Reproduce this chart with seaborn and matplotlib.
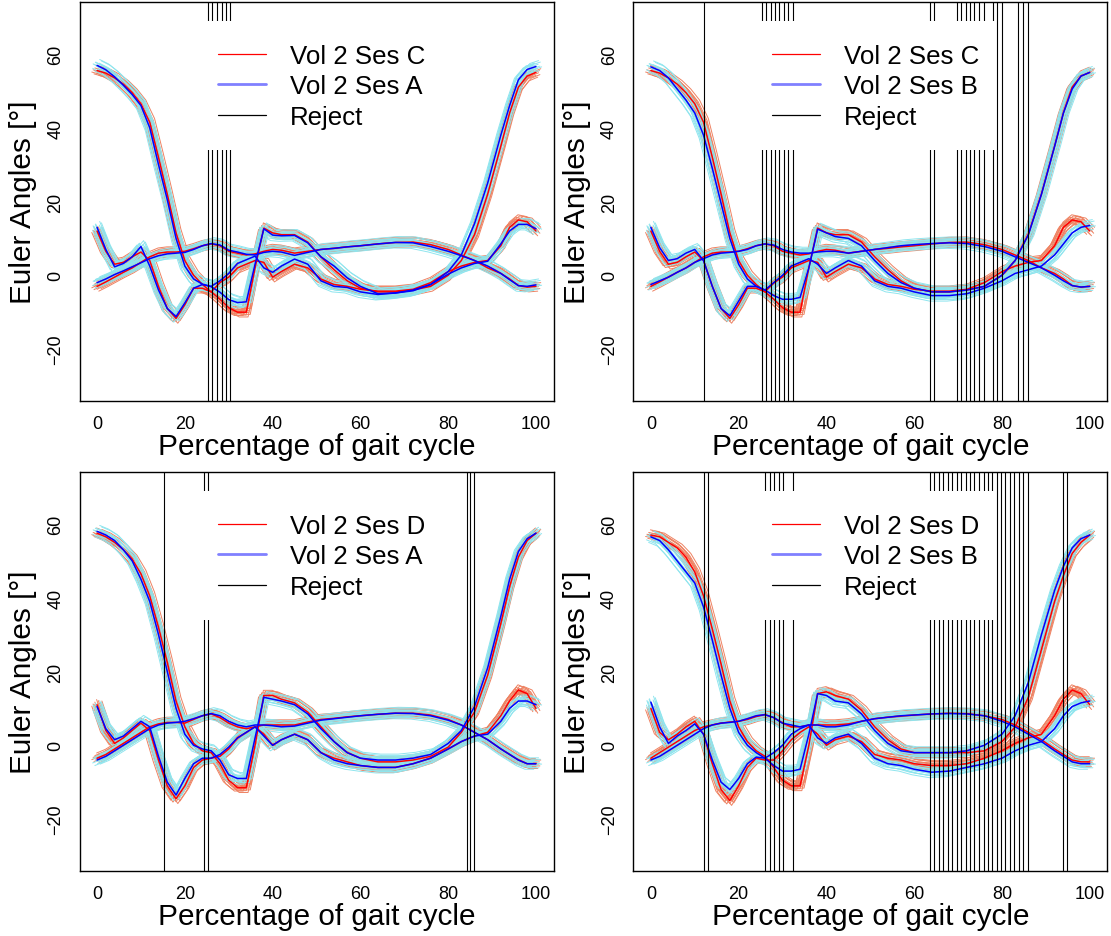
"""Gait-cycle Euler angles, four session comparisons — matplotlib + seaborn."""

import matplotlib
matplotlib.use("Agg")
import matplotlib.pyplot as plt
from matplotlib.lines import Line2D
from matplotlib.patches import Rectangle
import pandas as pd
import seaborn as sns

# percentage of gait cycle where the curves were read
GAIT_PCT = [0, 2, 4, 6, 8, 10, 12, 14, 16, 18, 20, 22, 24, 26, 28, 30, 32, 34, 36, 38,
            40, 42, 45, 48, 51, 54, 57, 60, 64, 68, 72, 76, 80, 83, 86, 89, 92, 94, 96, 98, 100]

# ---- panel 1: Ses C (red) vs Ses A (blue)
P1_RED_F = [55.5, 54.8, 53.5, 51.8, 49.5, 46.5, 41.5, 32.0, 22.0, 11.5, 4.0, 0.0, -2.5, -4.5, -6.5, -8.8, -10.0, -10.0, 2.0, 12.8,
            11.5, 11.0, 11.0, 9.0, 5.0, 1.5, -1.5, -3.5, -4.5, -4.5, -4.0, -3.0, 0.0, 4.0, 11.0, 22.0, 35.0, 44.0, 51.0, 54.0, 55.0]
P1_RED_S2 = [12.0, 6.5, 3.0, 3.5, 5.0, 6.3, 4.0, -3.0, -9.0, -11.7, -8.0, -3.5, -3.5, -4.5, -2.0, -0.5, 2.0, 3.0, 4.0, 3.5,
             -0.5, 1.0, 3.0, 2.0, -1.0, -2.5, -3.0, -3.8, -4.3, -4.3, -3.8, -2.0, 1.0, 2.5, 3.5, 4.0, 8.0, 13.0, 15.0, 14.5, 12.0]
P1_RED_S3 = [-3.0, -1.8, -0.5, 0.8, 2.0, 3.5, 5.0, 6.0, 6.3, 6.3, 6.5, 7.2, 8.0, 8.5, 8.0, 6.5, 6.0, 5.5, 5.8, 6.5,
             7.0, 6.8, 6.0, 6.5, 7.0, 7.3, 7.7, 8.0, 8.5, 8.9, 9.0, 8.3, 7.0, 5.5, 4.0, 2.0, 0.5, -1.0, -2.8, -3.2, -3.0]
P1_BLUE_F = [56.9, 55.7, 53.8, 51.5, 49.0, 46.0, 40.0, 30.0, 20.5, 10.0, 2.5, -1.0, -2.4, -3.1, -4.6, -6.6, -7.4, -7.2, 3.0, 12.6,
             10.9, 10.7, 10.8, 8.8, 5.0, 2.5, -0.7, -3.0, -5.0, -4.8, -4.2, -2.5, 1.0, 5.5, 14.0, 25.0, 38.0, 46.0, 53.0, 55.8, 56.6]
P1_BLUE_S2 = [13.0, 7.0, 2.3, 3.2, 5.0, 7.8, 2.5, -4.0, -9.0, -11.2, -7.5, -3.5, -2.5, -3.0, -1.5, 0.5, 3.2, 4.2, 5.2, 2.0,
              0.8, 2.5, 4.4, 3.0, -1.5, -3.0, -3.3, -4.5, -5.2, -4.8, -4.0, -2.5, 0.3, 2.0, 3.2, 3.8, 8.5, 12.0, 13.8, 13.8, 12.6]
P1_BLUE_S3 = [-2.0, -1.0, 0.2, 1.2, 2.3, 3.4, 4.5, 5.3, 5.8, 6.0, 6.2, 7.0, 8.0, 8.6, 8.2, 6.8, 6.3, 5.7, 5.5, 6.2,
              6.5, 6.3, 5.4, 6.2, 7.0, 7.3, 7.7, 8.0, 8.5, 8.9, 8.8, 7.8, 6.5, 5.3, 4.0, 2.5, 0.5, -1.2, -2.8, -3.0, -2.6]
P1_REJECT = [25.3, 26.3, 27.4, 28.4, 29.4, 30.4]

# ---- panel 2: Ses C (red) vs Ses B (blue)
P2_RED_F = P1_RED_F
P2_RED_S2 = P1_RED_S2
P2_RED_S3 = P1_RED_S3
P2_BLUE_F = [56.5, 55.5, 53.5, 50.5, 47.5, 44.0, 38.0, 29.0, 19.5, 10.0, 3.0, -1.0, -3.0, -4.0, -5.5, -6.5, -6.5, -6.0, 2.0, 12.5,
             11.5, 10.5, 10.0, 8.0, 4.0, 0.5, -2.0, -3.5, -4.5, -4.5, -4.0, -3.0, 0.0, 4.0, 11.0, 22.0, 35.0, 44.0, 50.5, 54.0, 55.0]
P2_BLUE_S2 = [13.0, 7.5, 4.0, 4.5, 6.0, 7.0, 4.0, -3.0, -9.0, -11.0, -7.0, -3.0, -3.0, -4.0, -2.0, 0.0, 2.5, 3.5, 4.5, 3.0,
              0.5, 2.0, 4.0, 2.5, -1.5, -3.0, -3.5, -4.5, -5.5, -5.5, -5.0, -3.5, -1.5, 0.5, 1.5, 2.5, 5.5, 8.5, 11.5, 13.0, 13.5]
P2_BLUE_S3 = [-2.5, -1.5, -0.5, 0.8, 2.0, 3.5, 4.5, 5.5, 6.0, 6.2, 6.5, 7.0, 8.0, 8.5, 8.2, 7.0, 6.3, 6.0, 6.0, 6.3,
              6.5, 6.5, 6.0, 6.5, 7.0, 7.5, 8.0, 8.3, 8.6, 8.8, 8.6, 7.8, 6.5, 5.0, 3.5, 2.0, 0.0, -1.5, -2.8, -3.2, -3.0]
P2_REJECT = [12.0, 25.3, 26.3, 27.3, 28.3, 29.3, 30.3, 31.3, 32.3, 63.6, 64.6, 69.7, 70.7, 71.7, 72.7, 73.7,
             74.7, 75.8, 77.9, 78.9, 79.9, 83.7, 84.9, 85.9]

# ---- panel 3: Ses D (red) vs Ses A (blue)
P3_RED_F = [57.5, 56.5, 55.0, 53.0, 50.5, 46.5, 40.5, 32.0, 22.5, 12.0, 5.0, 0.5, -1.5, -2.0, -5.0, -9.5, -11.5, -11.5, 0.0, 13.5,
            13.5, 12.5, 11.5, 9.0, 5.0, 1.0, -2.0, -3.5, -4.5, -4.5, -4.0, -3.0, -0.5, 3.5, 9.0, 19.0, 33.0, 43.0, 51.0, 55.5, 57.5]
P3_RED_S2 = [11.0, 4.0, 0.5, 2.0, 4.0, 6.0, 4.0, -4.0, -11.0, -14.5, -11.0, -6.0, -4.0, -3.5, -3.0, -1.0, 2.0, 3.5, 5.0, 3.0,
             0.0, 1.5, 3.0, 1.5, -2.0, -3.5, -4.5, -5.5, -6.0, -6.0, -5.0, -3.5, -1.0, 1.0, 2.5, 3.5, 8.0, 12.0, 15.0, 14.0, 10.0]
P3_RED_S3 = [-3.5, -2.5, -1.0, 0.5, 2.0, 3.5, 5.0, 5.8, 6.2, 6.2, 6.0, 7.0, 8.0, 8.5, 7.5, 6.0, 5.0, 4.5, 5.0, 5.5,
             5.5, 5.5, 5.5, 6.3, 7.0, 7.3, 7.7, 8.0, 8.4, 8.7, 8.7, 8.2, 7.0, 5.5, 3.5, 1.5, -1.0, -2.5, -4.0, -5.0, -5.0]
P3_BLUE_F = [58.0, 57.0, 55.5, 53.0, 50.0, 45.0, 39.0, 30.0, 20.0, 10.0, 3.0, 0.0, -1.0, -1.5, -4.0, -8.0, -9.0, -9.0, 2.0, 13.0,
             12.5, 12.0, 11.0, 8.5, 4.5, 1.0, -2.0, -3.5, -4.0, -4.0, -3.5, -2.5, 0.5, 4.0, 10.5, 21.0, 35.0, 45.0, 52.5, 56.0, 57.5]
P3_BLUE_S2 = [10.5, 4.5, 1.5, 2.5, 4.5, 6.5, 5.0, -3.0, -10.0, -13.5, -9.0, -5.0, -3.5, -3.5, -2.5, -0.5, 2.0, 3.5, 5.0, 2.5,
              0.0, 1.5, 3.0, 1.5, -2.0, -4.0, -5.0, -5.5, -6.0, -6.0, -5.0, -3.5, -1.0, 1.0, 2.5, 3.0, 6.5, 10.0, 12.0, 12.0, 11.0]
P3_BLUE_S3 = [-4.0, -3.0, -1.5, 0.0, 1.5, 3.0, 4.5, 5.5, 6.0, 6.2, 6.5, 7.2, 8.0, 8.6, 8.0, 6.5, 5.5, 5.0, 5.5, 5.5,
              5.3, 5.0, 5.2, 6.0, 6.8, 7.2, 7.6, 8.0, 8.4, 8.7, 8.6, 8.0, 6.8, 5.5, 3.5, 1.5, -1.0, -2.5, -4.0, -5.0, -5.0]
P3_REJECT = [15.3, 24.4, 25.3, 84.2, 84.9, 85.9]

# ---- panel 4: Ses D (red) vs Ses B (blue)
P4_RED_F = [57.0, 56.5, 55.0, 53.5, 51.0, 47.0, 40.5, 31.5, 22.0, 12.0, 5.0, 1.0, -1.5, -3.0, -6.0, -9.5, -11.0, -11.0, 0.0, 14.0,
            14.5, 13.5, 12.5, 9.5, 5.0, 1.5, -1.0, -2.0, -2.0, -2.0, -2.0, -1.5, 1.0, 5.0, 13.0, 26.0, 39.0, 46.0, 52.0, 55.0, 57.0]
P4_RED_S2 = [10.0, 3.5, 1.5, 3.0, 5.0, 6.5, 3.0, -5.0, -12.0, -15.0, -11.0, -6.0, -3.5, -4.0, -4.0, -1.5, 1.5, 3.5, 5.0, 3.0,
             0.0, 1.5, 2.5, 1.0, -2.5, -3.5, -4.0, -5.0, -5.5, -5.5, -5.0, -3.5, -1.5, 0.5, 2.0, 3.0, 8.0, 12.5, 15.0, 14.0, 11.0]
P4_RED_S3 = [-3.5, -2.0, -0.5, 1.0, 2.5, 4.0, 5.0, 5.5, 6.0, 6.3, 6.5, 7.0, 7.8, 8.3, 7.5, 6.0, 5.0, 5.0, 5.5, 5.5,
             5.5, 5.5, 5.8, 6.5, 7.2, 7.6, 7.9, 8.2, 8.5, 8.7, 8.6, 8.0, 7.0, 5.5, 3.5, 1.5, -1.0, -2.5, -4.0, -4.5, -4.5]
P4_BLUE_F = [56.5, 55.5, 53.0, 50.0, 47.0, 44.0, 37.5, 28.5, 19.0, 10.0, 3.5, 0.0, -2.0, -3.5, -5.5, -7.0, -7.0, -6.5, 3.0, 14.0,
             13.5, 12.0, 11.5, 8.5, 4.0, 0.5, -1.5, -2.0, -2.0, -2.0, -1.5, 0.0, 3.0, 8.0, 17.0, 30.0, 42.0, 48.5, 53.5, 56.0, 57.0]
P4_BLUE_S2 = [11.7, 5.0, 0.5, 2.5, 4.0, 5.8, 3.0, -4.0, -10.0, -12.0, -9.0, -5.0, -3.2, -3.5, -2.0, 0.0, 3.0, 4.5, 5.5, 2.0,
              0.5, 2.0, 3.0, 0.5, -3.5, -5.0, -5.5, -6.5, -7.3, -7.0, -6.0, -5.0, -3.5, -1.5, 0.0, 1.0, 4.5, 8.0, 10.5, 11.5, 12.0]
P4_BLUE_S3 = [-4.0, -3.0, -1.5, 0.0, 1.5, 3.0, 4.5, 5.5, 6.0, 6.2, 6.5, 7.2, 8.0, 8.3, 7.5, 6.0, 5.5, 5.0, 5.5, 5.5,
              5.0, 5.0, 5.5, 6.5, 7.2, 7.6, 8.0, 8.2, 8.5, 8.6, 8.5, 8.0, 6.5, 5.0, 3.0, 1.0, -1.5, -3.0, -4.5, -5.0, -5.0]
P4_REJECT = [12.0, 13.0, 26.1, 27.1, 28.1, 29.2, 30.1, 32.3, 63.6, 64.6, 65.6, 66.6, 67.6, 68.7, 69.7, 70.7,
             71.7, 72.7, 73.7, 74.7, 75.8, 76.8, 77.8, 78.8, 79.8, 80.8, 81.8, 82.8, 83.8, 84.9, 85.9, 93.9, 94.9]

# per-trial deviation from the session mean (degrees, % of cycle)
RED_TRIAL_DY = [-1.3, -0.9, -0.6, -0.3, -0.1, 0.2, 0.4, 0.7, 1.0, 1.4, -0.8, 0.5, -0.4, 1.1, 0.0]
RED_TRIAL_DX = [0.4, -0.7, 0.9, -0.3, 0.6, -0.9, 0.2, -0.5, 1.1, -0.1, 0.0, 0.8, -1.2, 0.3, -0.6]
CYAN_TRIAL_DY = [-1.5, -1.1, -0.8, -0.5, -0.2, 0.1, 0.3, 0.6, 0.9, 1.2, -1.0, 0.4, -0.1, 0.8, 1.6]
CYAN_TRIAL_DX = [-0.5, 0.7, -1.0, 0.3, -0.2, 0.9, -0.7, 0.5, -0.3, 1.0, 0.1, -0.9, 1.3, -0.4, 0.6]

PANELS = [
    ("Vol 2 Ses C", "Vol 2 Ses A", (P1_RED_F, P1_RED_S2, P1_RED_S3), (P1_BLUE_F, P1_BLUE_S2, P1_BLUE_S3), P1_REJECT),
    ("Vol 2 Ses C", "Vol 2 Ses B", (P2_RED_F, P2_RED_S2, P2_RED_S3), (P2_BLUE_F, P2_BLUE_S2, P2_BLUE_S3), P2_REJECT),
    ("Vol 2 Ses D", "Vol 2 Ses A", (P3_RED_F, P3_RED_S2, P3_RED_S3), (P3_BLUE_F, P3_BLUE_S2, P3_BLUE_S3), P3_REJECT),
    ("Vol 2 Ses D", "Vol 2 Ses B", (P4_RED_F, P4_RED_S2, P4_RED_S3), (P4_BLUE_F, P4_BLUE_S2, P4_BLUE_S3), P4_REJECT),
]

TRIAL_RED = "#EE8262"
TRIAL_CYAN = "#8EE5EE"


def trials_frame(curves, dys, dxs):
    rows = []
    for t, (dy, dx) in enumerate(zip(dys, dxs)):
        for c, curve in enumerate(curves):
            for x, y in zip(GAIT_PCT, curve):
                rows.append({"x": x + dx, "y": y + dy, "unit": f"{t}-{c}"})
    return pd.DataFrame(rows)


def means_frame(curves):
    rows = []
    for c, curve in enumerate(curves):
        for x, y in zip(GAIT_PCT, curve):
            rows.append({"x": x, "y": y, "unit": c})
    return pd.DataFrame(rows)


sns.set_style("white")
plt.rcParams["font.family"] = ["Liberation Sans", "DejaVu Sans"]
plt.rcParams["text.color"] = "black"
plt.rcParams["axes.labelcolor"] = "black"
plt.rcParams["xtick.color"] = "black"
plt.rcParams["ytick.color"] = "black"

fig = plt.figure(figsize=(11.11, 9.37), dpi=100)

# plot-region boxes in pixels (left, top)
BOX_W, BOX_H = 474, 398.4
LEFTS = [79.5, 633.3]
TOPS = [3.3, 473.3]

for i, (red_lab, blue_lab, red_curves, blue_curves, rejects) in enumerate(PANELS):
    left, top = LEFTS[i % 2], TOPS[i // 2]
    ax = fig.add_axes([left / 1111, 1 - (top + BOX_H) / 937, BOX_W / 1111, BOX_H / 937])

    sns.lineplot(data=trials_frame(red_curves, RED_TRIAL_DY, RED_TRIAL_DX), x="x", y="y",
                 units="unit", estimator=None, sort=False, color=TRIAL_RED, lw=0.7, ax=ax, zorder=1)
    sns.lineplot(data=trials_frame(blue_curves, CYAN_TRIAL_DY, CYAN_TRIAL_DX), x="x", y="y",
                 units="unit", estimator=None, sort=False, color=TRIAL_CYAN, lw=0.7, ax=ax, zorder=1.5)
    sns.lineplot(data=means_frame(red_curves), x="x", y="y", units="unit", estimator=None,
                 sort=False, color="#FF0000", lw=1.1, ax=ax, zorder=2)
    sns.lineplot(data=means_frame(blue_curves), x="x", y="y", units="unit", estimator=None,
                 sort=False, color="#0000FF", lw=1.1, ax=ax, zorder=2.5)

    ax.vlines(rejects, -34, 74, colors="black", lw=0.8, zorder=3)

    # legend background hides the reject lines behind it
    ax.add_patch(Rectangle((24, 34), 54.4, 35, facecolor="white", edgecolor="none", zorder=4))
    handles = [Line2D([], [], color="#FF0000", lw=0.9),
               Line2D([], [], color="#8080FF", lw=2.0),
               Line2D([], [], color="black", lw=0.9)]
    leg = ax.legend(handles, [red_lab, blue_lab, "Reject"], loc="center left",
                    bbox_to_anchor=(27.6, 51.2), bbox_transform=ax.transData,
                    frameon=False, fontsize=18.6, handlelength=1.84, handletextpad=0.93,
                    labelspacing=0.24, borderpad=0, borderaxespad=0)
    leg.set_zorder(5)

    ax.set_xlim(-4, 104)
    ax.set_ylim(-34, 74)
    ax.set_xticks([0, 20, 40, 60, 80, 100])
    ax.set_yticks([-20, 0, 20, 40, 60])
    ax.tick_params(axis="both", direction="out", length=5, width=0.8, colors="black", labelsize=13)
    ax.tick_params(axis="x", pad=5)
    ax.tick_params(axis="y", pad=6, labelrotation=90)
    for lab in ax.get_yticklabels():
        lab.set_va("center")
    for sp in ax.spines.values():
        sp.set_visible(True)
        sp.set_color("black")
        sp.set_linewidth(1.0)

    ax.set_xlabel("Percentage of gait cycle", fontsize=21.4, va="center", color="black")
    ax.set_ylabel("Euler Angles [°]", fontsize=21.4, va="center", color="black")
    ax.xaxis.set_label_coords(0.5, -45 / BOX_H)
    ax.yaxis.set_label_coords(-56 / BOX_W, 0.5)

fig.savefig("out.png", dpi=100)
plt.close(fig)
